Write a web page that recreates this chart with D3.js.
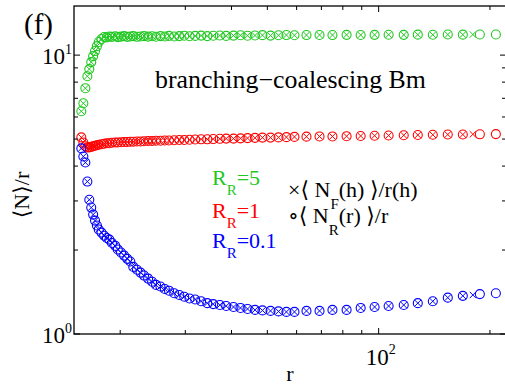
<!DOCTYPE html>
<html>
<head>
<meta charset="utf-8">
<script src="https://cdn.jsdelivr.net/npm/d3@7"></script>
<style>
    body { margin: 0; background: #fff; }
    svg { display: block; }
</style>
</head>
<body>
<div id="chart"></div>
<script>

// r values (shared by all three R_R series)
var rVals = [15.7, 15.9, 16.1, 16.3, 16.5, 16.7, 16.9, 17.1, 17.3, 17.5,
    17.8, 18.1, 18.4, 18.7, 19.0, 19.4, 19.7, 20.1, 20.5, 20.9,
    21.3, 21.7, 22.2, 22.7, 23.2, 23.8, 24.4, 25.0, 25.7, 26.4,
    27.1, 28.0, 28.9, 29.8, 30.8, 31.9, 33.1, 34.4, 35.7, 37.2,
    38.7, 40.5, 42.3, 44.2, 46.3, 48.5, 51.0, 53.6, 56.3, 59.2,
    63.8, 69.2, 75.0, 81.9, 89.4, 97.5, 106.4, 116.9, 127.6, 140.1,
    153.8, 168.9, 187.8, 207.5];

// <N>/r for R_R = 5
var nGreen = [6.29, 6.72, 7.61, 8.40, 8.91, 9.44, 9.92, 10.34, 10.77, 11.14,
    11.42, 11.61, 11.58, 11.66, 11.62, 11.68, 11.60, 11.65, 11.70, 11.62,
    11.66, 11.70, 11.63, 11.66, 11.70, 11.65, 11.68, 11.64, 11.70, 11.66,
    11.72, 11.66, 11.70, 11.74, 11.68, 11.72, 11.75, 11.70, 11.73, 11.76,
    11.72, 11.75, 11.78, 11.74, 11.76, 11.79, 11.75, 11.78, 11.80, 11.78,
    11.80, 11.81, 11.80, 11.82, 11.81, 11.82, 11.83, 11.82, 11.84, 11.83,
    11.85, 11.84, 11.85, 11.86];

// <N>/r for R_R = 1
var nRed = [5.07, 4.86, 4.71, 4.67, 4.67, 4.69, 4.71, 4.73, 4.75, 4.77,
    4.79, 4.81, 4.83, 4.83, 4.85, 4.86, 4.86, 4.87, 4.88, 4.88,
    4.89, 4.89, 4.90, 4.90, 4.91, 4.92, 4.92, 4.93, 4.93, 4.94,
    4.94, 4.95, 4.96, 4.96, 4.97, 4.98, 4.99, 4.99, 5.00, 5.01,
    5.02, 5.02, 5.03, 5.04, 5.05, 5.06, 5.06, 5.07, 5.08, 5.09,
    5.10, 5.11, 5.11, 5.12, 5.13, 5.14, 5.15, 5.16, 5.17, 5.18,
    5.19, 5.19, 5.20, 5.21];

// <N>/r for R_R = 0.1
var nBlue = [4.63, 4.33, 4.12, 3.52, 3.03, 2.84, 2.68, 2.55, 2.45, 2.37,
    2.31, 2.25, 2.21, 2.18, 2.12, 2.07, 2.01, 1.96, 1.91, 1.86,
    1.82, 1.74, 1.70, 1.66, 1.62, 1.58, 1.54, 1.50, 1.48, 1.45,
    1.43, 1.40, 1.38, 1.36, 1.34, 1.33, 1.31, 1.29, 1.28, 1.27,
    1.26, 1.25, 1.24, 1.23, 1.22, 1.215, 1.21, 1.205, 1.20, 1.20,
    1.21, 1.21, 1.22, 1.22, 1.24, 1.25, 1.26, 1.27, 1.29, 1.31,
    1.35, 1.37, 1.39, 1.40];

// crosses <N_F(h)>/r(h): same points as circles except the last two, plus one extra point
var nFCount = 62;
var rFExtra = 179.8;
var nFExtra = [11.85, 5.20, 1.38];

var seriesNames = ["5", "1", "0.1"];
var seriesColors = ["#1fc81f", "#ff0000", "#0000ff"];

var xTicksMajor = [100];
var xTicksMinor = [20, 30, 40, 50, 60, 70, 80, 90, 200];
var yTicksMajor = [1, 10];
var yTicksMinor = [2, 3, 4, 5, 6, 7, 8, 9];

var FONT = "'Liberation Serif', 'DejaVu Serif', 'Times New Roman', serif";
var width = 505, height = 387;
var plot = {left: 74, right: 506, top: 6, bottom: 334};

var svg = d3.select("#chart")
    .append("svg")
    .attr("width", width)
    .attr("height", height)
    .attr("font-family", FONT);

var x = d3.scaleLog().domain([15, 221]).range([plot.left, plot.right]);
var y = d3.scaleLog().domain([1, 15]).range([plot.bottom, plot.top]);

var allSeries = [nGreen, nRed, nBlue].map(function(vals, i) {
    return {
        name: seriesNames[i],
        color: seriesColors[i],
        circles: rVals.map(function(r, j) { return {r: r, n: vals[j]}; }),
        crosses: rVals.slice(0, nFCount).map(function(r, j) { return {r: r, n: vals[j]}; })
            .concat([{r: rFExtra, n: nFExtra[i]}])
    };
});

// markers
var rad = 4.5, arm = 3.2;
allSeries.forEach(function(s) {
    var g = svg.append("g").attr("class", "series");

    g.selectAll("circle")
        .data(s.circles)
        .enter()
        .append("circle")
        .attr("cx", function(d) { return x(d.r); })
        .attr("cy", function(d) { return y(d.n); })
        .attr("r", rad)
        .style("fill", "none")
        .style("stroke", s.color)
        .style("stroke-width", 1.1);

    g.selectAll("path")
        .data(s.crosses)
        .enter()
        .append("path")
        .attr("d", function(d) {
            var cx = x(d.r), cy = y(d.n);
            return "M" + (cx - arm) + "," + (cy - arm) + "L" + (cx + arm) + "," + (cy + arm) +
                "M" + (cx - arm) + "," + (cy + arm) + "L" + (cx + arm) + "," + (cy - arm);
        })
        .style("fill", "none")
        .style("stroke", s.color)
        .style("stroke-width", 1);
});

// frame + ticks
var axisG = svg.append("g").attr("class", "axes");

axisG.append("rect")
    .attr("x", plot.left)
    .attr("y", plot.top)
    .attr("width", plot.right - plot.left)
    .attr("height", plot.bottom - plot.top)
    .style("fill", "none")
    .style("stroke", "#000")
    .style("stroke-width", 1.3);

function xTick(v, len) {
    axisG.append("line")
        .attr("x1", x(v)).attr("x2", x(v))
        .attr("y1", plot.bottom).attr("y2", plot.bottom - len)
        .style("stroke", "#000").style("stroke-width", 1);
    axisG.append("line")
        .attr("x1", x(v)).attr("x2", x(v))
        .attr("y1", plot.top).attr("y2", plot.top + len)
        .style("stroke", "#000").style("stroke-width", 1);
}
function yTick(v, len) {
    axisG.append("line")
        .attr("x1", plot.left).attr("x2", plot.left + len)
        .attr("y1", y(v)).attr("y2", y(v))
        .style("stroke", "#000").style("stroke-width", 1);
    axisG.append("line")
        .attr("x1", plot.right).attr("x2", plot.right - len)
        .attr("y1", y(v)).attr("y2", y(v))
        .style("stroke", "#000").style("stroke-width", 1);
}
xTicksMajor.forEach(function(v) { xTick(v, 6); });
xTicksMinor.forEach(function(v) { xTick(v, 4); });
yTicksMajor.forEach(function(v) { yTick(v, 6); });
yTicksMinor.forEach(function(v) { yTick(v, 4); });

// tick labels 10^k
yTicksMajor.forEach(function(v) {
    var t = svg.append("text")
        .attr("x", plot.left - 2)
        .attr("y", y(v) + 9)
        .attr("text-anchor", "end")
        .attr("font-family", FONT)
        .style("font-size", "23px");
    t.append("tspan").text("10");
    t.append("tspan").attr("dy", -10).style("font-size", "14px").text(Math.round(Math.log10(v)));
});
xTicksMajor.forEach(function(v) {
    var t = svg.append("text")
        .attr("x", x(v) + 2)
        .attr("y", 365)
        .attr("text-anchor", "middle")
        .attr("font-family", FONT)
        .style("font-size", "23px");
    t.append("tspan").text("10");
    t.append("tspan").attr("dy", -11).style("font-size", "14px").text(Math.round(Math.log10(v)));
});

// axis titles
svg.append("text")
    .attr("x", 290)
    .attr("y", 381)
    .attr("text-anchor", "middle")
    .attr("font-family", FONT)
    .style("font-size", "22px")
    .text("r");

svg.append("text")
    .attr("transform", "translate(29,195) rotate(-90)")
    .attr("text-anchor", "middle")
    .attr("font-family", FONT)
    .style("font-size", "22px")
    .text("\u27E8N\u27E9/r");

svg.append("text")
    .attr("x", 24)
    .attr("y", 34)
    .attr("font-family", FONT)
    .style("font-size", "29px")
    .text("(f)");

svg.append("text")
    .attr("x", 155)
    .attr("y", 88)
    .attr("textLength", 271)
    .attr("lengthAdjust", "spacingAndGlyphs")
    .attr("font-family", FONT)
    .style("font-size", "25px")
    .text("branching\u2212coalescing Bm");

// legend: R_R values
var legendY = [185, 218, 248];
allSeries.forEach(function(s, i) {
    var t = svg.append("text")
        .attr("x", 212)
        .attr("y", legendY[i])
        .attr("font-family", FONT)
        .style("font-size", "22px")
        .style("fill", s.color);
    t.append("tspan").text("R");
    t.append("tspan").attr("dy", 10).style("font-size", "15px").text("R");
    t.append("tspan").attr("dy", -10).text("=" + s.name);
});

// legend: marker meaning
var m1 = svg.append("text").attr("x", 288).attr("y", 197)
    .attr("font-family", FONT).style("font-size", "22px");
m1.append("tspan").text("\u00D7\u27E8 N");
m1.append("tspan").attr("dy", 12).style("font-size", "15px").text("F");
m1.append("tspan").attr("dy", -12).text("(h) \u27E9/r(h)");

var m2 = svg.append("text").attr("x", 288).attr("y", 223)
    .attr("font-family", FONT).style("font-size", "22px");
m2.append("tspan").text("\u2218\u27E8 N");
m2.append("tspan").attr("dy", 12).style("font-size", "15px").text("R");
m2.append("tspan").attr("dy", -12).text("(r) \u27E9/r");

</script>
</body>
</html>
